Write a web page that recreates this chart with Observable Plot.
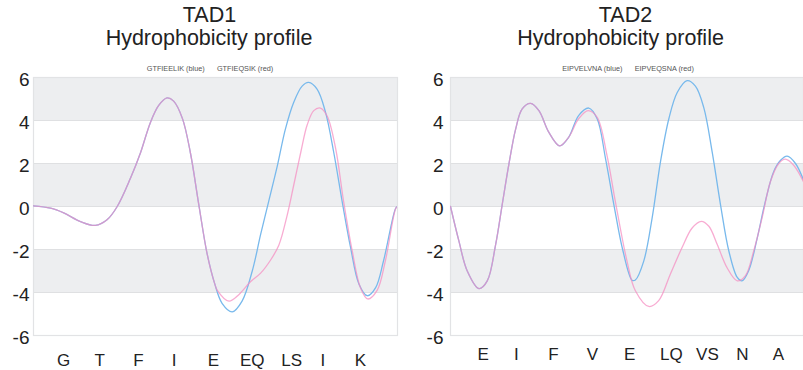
<!DOCTYPE html>
<html>
<head>
<meta charset="utf-8">
<script src="https://cdn.jsdelivr.net/npm/d3@7"></script>
<script src="https://cdn.jsdelivr.net/npm/@observablehq/plot@0.6"></script>
<style>
  html, body { margin: 0; padding: 0; background: #fff; overflow: hidden; }
  #wrap { display: flex; width: 803px; height: 370px; overflow: hidden; }
  svg { display: block; flex: none; }
</style>
</head>
<body>
<div id="wrap"></div>
<script>
// ---------- TAD1 ----------
const tad1Title = "TAD1";
const tad1Legend = "GTFIEELIK (blue)      GTFIEQSIK (red)";
const tad1Labels = ["G", "T", "F", "I", "E", "EQ", "LS", "I", "K"];
const tad1LabelPos = [0.83, 1.82, 2.88, 3.86, 4.94, 6.01, 7.09, 7.95, 8.98];
const tad1CommonX = [0, 0.47, 0.83, 1.29, 1.70, 2.02, 2.30, 2.66, 2.94, 3.21, 3.44, 3.67, 3.85, 4.09, 4.31, 4.54, 4.77, 4.98];
const tad1CommonY = [0.03, -0.08, -0.3, -0.7, -0.88, -0.62, 0, 1.3, 2.5, 3.9, 4.7, 5.05, 4.9, 4.1, 2.5, 0.1, -2.2, -3.6];
const tad1BlueX = [5.18, 5.46, 5.73, 6.01, 6.24, 6.46, 6.70, 6.92, 7.15, 7.38, 7.56, 7.79, 8.02, 8.25, 8.48, 8.71, 8.94, 9.17, 9.40, 9.62, 9.95, 10];
const tad1BlueY = [-4.5, -4.9, -4.4, -3.0, -1.3, 0.23, 1.9, 3.6, 4.85, 5.6, 5.77, 5.46, 4.4, 2.5, 0.23, -1.9, -3.6, -4.15, -3.77, -2.5, -0.08, 0];
const tad1RedX = [5.05, 5.37, 5.64, 5.96, 6.24, 6.51, 6.74, 6.97, 7.15, 7.34, 7.52, 7.70, 7.88, 8.07, 8.30, 8.52, 8.76, 8.98, 9.18, 9.44, 9.67, 9.95, 10];
const tad1RedY = [-3.9, -4.4, -4.1, -3.5, -3.1, -2.5, -1.8, -0.4, 1.0, 2.5, 3.8, 4.46, 4.58, 4.2, 2.7, 0.23, -2.1, -3.77, -4.3, -3.9, -2.5, -0.1, 0];

// ---------- TAD2 ----------
const tad2Title = "TAD2";
const tad2Legend = "EIPVELVNA (blue)      EIPVEQSNA (red)";
const tad2Labels = ["E", "I", "F", "V", "E", "LQ", "VS", "N", "A"];
const tad2LabelPos = [0.90, 1.81, 2.83, 3.90, 4.92, 6.07, 7.06, 8.02, 9.01];
const tad2CommonX = [0, 0.23, 0.46, 0.78, 1.01, 1.24, 1.42, 1.60, 1.79, 1.97, 2.20, 2.43, 2.70, 3.00, 3.25];
const tad2CommonY = [0, -1.6, -3.0, -3.82, -3.46, -1.77, 0.08, 1.92, 3.6, 4.54, 4.8, 4.46, 3.46, 2.82, 3.23];
const tad2BlueX = [3.52, 3.80, 4.03, 4.26, 4.49, 4.73, 4.99, 5.08, 5.31, 5.54, 5.77, 6.00, 6.23, 6.50, 6.73, 6.96, 7.19, 7.42, 7.65, 7.88, 8.01, 8.19, 8.43, 8.65, 8.88, 9.07, 9.25, 9.48, 9.70];
const tad2BlueY = [4.23, 4.58, 4.08, 2.23, 0.08, -2.0, -3.43, -3.42, -2.54, -0.54, 2.08, 4.08, 5.3, 5.85, 5.6, 4.6, 2.54, 0.08, -2.08, -3.3, -3.46, -3.0, -1.46, 0.23, 1.62, 2.15, 2.34, 2.0, 1.23];
const tad2RedX = [3.52, 3.78, 4.03, 4.30, 4.53, 4.85, 5.08, 5.45, 5.72, 6.04, 6.36, 6.64, 6.89, 7.10, 7.33, 7.60, 7.88, 8.10, 8.33, 8.56, 8.79, 9.02, 9.20, 9.43, 9.70];
const tad2RedY = [4.08, 4.46, 4.15, 2.38, 0.23, -2.54, -3.92, -4.65, -4.38, -3.15, -1.92, -1.0, -0.69, -0.92, -1.77, -2.85, -3.46, -3.23, -2.08, -0.54, 1.15, 2.0, 2.2, 1.92, 1.15];

// ---------- shared ----------
const subtitle = "Hydrophobicity profile";
const yTicks = [-6, -4, -2, 0, 2, 4, 6];
const gridLines = [-4, -2, 0, 2, 4];
const bandLow = [4, 0, -4];
const bandHigh = [6, 2, -2];

const BLUE = "#78b9ec";
const PINK = "#f58cc0";
const FONT = "'Liberation Sans', Arial, Helvetica, sans-serif";

function series(cx, cy, sx, sy) {
  const pts = cx.map((x, i) => ({x, y: cy[i]}));
  sx.forEach((x, i) => pts.push({x, y: sy[i]}));
  return pts;
}

function panel(opts) {
  const blue = series(opts.commonX, opts.commonY, opts.blueX, opts.blueY);
  const red = series(opts.commonX, opts.commonY, opts.redX, opts.redY);
  const bands = bandLow.map((lo, i) => ({lo, hi: bandHigh[i]}));
  return Plot.plot({
    width: opts.width,
    height: 370,
    marginLeft: opts.marginLeft,
    marginRight: opts.marginRight,
    marginTop: 77,
    marginBottom: 35,
    style: {fontFamily: FONT, color: "#222", background: "transparent", overflow: "hidden"},
    x: {domain: opts.xDomain, label: null},
    y: {domain: [-6, 6], label: null},
    marks: [
      Plot.rectY(bands, {x1: opts.xDomain[0], x2: opts.xDomain[1], y1: "lo", y2: "hi", fill: "#edeef0"}),
      Plot.ruleY(gridLines, {stroke: "#dfe0e2", strokeWidth: 1}),
      Plot.frame({stroke: "#e2e3e5", strokeWidth: 1.2}),
      Plot.line(blue, {x: "x", y: "y", curve: "catmull-rom", stroke: BLUE, strokeWidth: 1.3, clip: true}),
      Plot.line(red, {x: "x", y: "y", curve: "catmull-rom", stroke: PINK, strokeWidth: 1.3, strokeOpacity: 0.72, clip: true}),
      Plot.axisY(yTicks, {tickSize: 0, tickPadding: opts.yPad, fontSize: 19, dy: 2.5, label: null, tickFormat: d => String(d).replace("−", "-"), fill: "#222"}),
      Plot.axisX(opts.labelPos, {tickSize: 0, tickPadding: opts.xPad, fontSize: 17, label: null, tickFormat: (d, i) => opts.labels[i], fill: "#222"}),
      Plot.text([opts.title], {frameAnchor: "top", dx: opts.titleDx, dy: -62, fontSize: 21.5, fill: "#222", lineAnchor: "middle"}),
      Plot.text([subtitle], {frameAnchor: "top", dx: opts.subDx, dy: -39.5, fontSize: 21.5, fill: "#222", lineAnchor: "middle"}),
      Plot.text([opts.legend], {frameAnchor: "top", dx: opts.legDx, dy: -9.3, fontSize: 7.3, fill: "#555", lineAnchor: "middle"})
    ]
  });
}

const wrap = document.getElementById("wrap");
wrap.appendChild(panel({
  width: 400, marginLeft: 33, marginRight: 3, xDomain: [0, 10],
  commonX: tad1CommonX, commonY: tad1CommonY,
  blueX: tad1BlueX, blueY: tad1BlueY, redX: tad1RedX, redY: tad1RedY,
  labels: tad1Labels, labelPos: tad1LabelPos,
  title: tad1Title, legend: tad1Legend,
  titleDx: -6, subDx: -6.5, legDx: -5.5, yPad: 4, xPad: 18
}));
wrap.appendChild(panel({
  width: 403, marginLeft: 50, marginRight: 0, xDomain: [0, 9.70],
  commonX: tad2CommonX, commonY: tad2CommonY,
  blueX: tad2BlueX, blueY: tad2BlueY, redX: tad2RedX, redY: tad2RedY,
  labels: tad2Labels, labelPos: tad2LabelPos,
  title: tad2Title, legend: tad2Legend,
  titleDx: -1.5, subDx: -6.5, legDx: 1, yPad: 7, xPad: 12
}));
</script>
</body>
</html>
